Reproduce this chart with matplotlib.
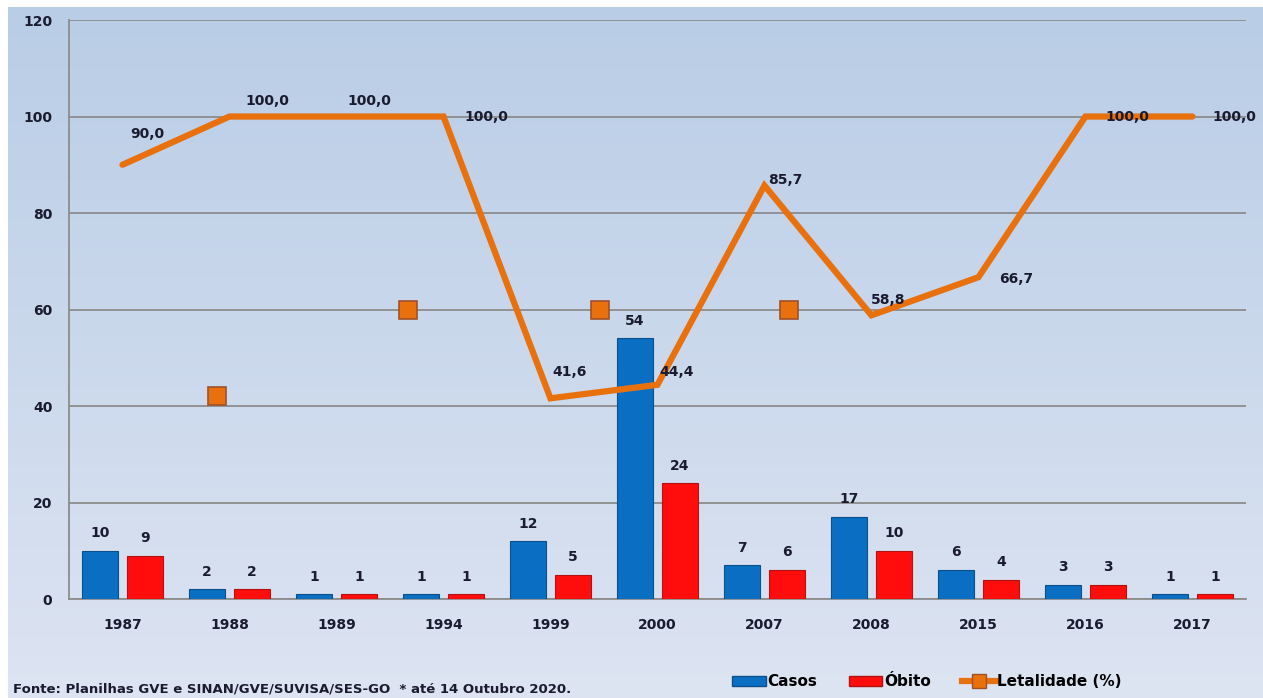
import numpy as np
import matplotlib.pyplot as plt
from matplotlib.lines import Line2D
from matplotlib.patches import Patch

anos = ['1987', '1988', '1989', '1994', '1999', '2000', '2007', '2008', '2015', '2016', '2017']
casos = [10, 2, 1, 1, 12, 54, 7, 17, 6, 3, 1]
obitos = [9, 2, 1, 1, 5, 24, 6, 10, 4, 3, 1]
letalidade = [90.0, 100.0, 100.0, 100.0, 41.6, 44.4, 85.7, 58.8, 66.7, 100.0, 100.0]
# loose markers drawn in the original picture
soltos_x = [0.88, 2.67, 4.46, 6.23]
soltos_y = [42, 60, 60, 60]

azul = '#0a6fc2'
vermelho = '#ff0d0d'
laranja = '#e8710e'
texto = '#1b1b30'

fig = plt.figure(figsize=(12.63, 6.98), dpi=100)
fig.patch.set_facecolor('white')

# background gradient
bg = fig.add_axes([0.006, 0, 0.994, 0.99], zorder=-1)
grad = np.linspace(0, 1, 256).reshape(-1, 1)
top = np.array([0.725, 0.804, 0.902])
bot = np.array([0.867, 0.894, 0.949])
img = top + (bot - top) * grad[:, :, None]
bg.imshow(img, aspect='auto', extent=[0, 1, 0, 1])
bg.axis('off')

ax = fig.add_axes([0.0546, 0.1418, 0.9319, 0.8295])
ax.patch.set_alpha(0)
x = np.arange(len(anos))
w = 0.33
ax.bar(x - 0.21, casos, w, color=azul, edgecolor='#0b4f8a', linewidth=0.8, zorder=3)
ax.bar(x + 0.21, obitos, w, color=vermelho, edgecolor='#b51010', linewidth=0.8, zorder=3)

for i in range(len(anos)):
    ax.text(x[i] - 0.21, casos[i] + 2.2, str(casos[i]), ha='center', va='bottom',
            fontsize=10, fontweight='bold', color=texto, zorder=5)
    ax.text(x[i] + 0.21, obitos[i] + 2.2, str(obitos[i]), ha='center', va='bottom',
            fontsize=10, fontweight='bold', color=texto, zorder=5)

ax.plot(x, letalidade, color=laranja, linewidth=4.5, solid_capstyle='round',
        solid_joinstyle='miter', zorder=4)
ax.plot(soltos_x, soltos_y, 's', color=laranja, markersize=13,
        markeredgecolor='#a0502a', markeredgewidth=1.2, zorder=4)

# label offsets in points
offs = [(18, 22), (27, 11), (24, 11), (31, 0), (14, 19), (14, 9),
        (15, 4), (12, 11), (27, -1), (30, 0), (30, 0)]
for i, v in enumerate(letalidade):
    ax.annotate(f'{v:.1f}'.replace('.', ','), (x[i], v), xytext=offs[i],
                textcoords='offset points', ha='center', va='center',
                fontsize=10, fontweight='bold', color=texto, zorder=6)

ax.set_xlim(-0.5, len(anos) - 0.5)
ax.set_ylim(0, 120)
ax.set_yticks(range(0, 121, 20))
ax.set_xticks(x)
ax.set_xticklabels(anos)
ax.yaxis.grid(True, color='#8c8c8c', linewidth=1.3, zorder=0)
ax.set_axisbelow(True)
for s in ['top', 'right']:
    ax.spines[s].set_visible(False)
for s in ['left', 'bottom']:
    ax.spines[s].set_color('#8c8c8c')
    ax.spines[s].set_linewidth(1.3)
ax.tick_params(axis='both', length=0, labelsize=10, labelcolor=texto)
ax.tick_params(axis='y', pad=12)
ax.tick_params(axis='x', pad=14)
for lbl in ax.get_xticklabels() + ax.get_yticklabels():
    lbl.set_fontweight('bold')

handles = [Patch(facecolor=azul, edgecolor='#0b4f8a'),
           Patch(facecolor=vermelho, edgecolor='#b51010'),
           Line2D([0], [0], color=laranja, linewidth=4.5, marker='s', markersize=10,
                  markeredgecolor='#a0502a')]
fig.legend(handles, ['Casos', 'Óbito', 'Letalidade (%)'], loc='center left',
           bbox_to_anchor=(0.569, 0.023), ncol=3, frameon=False,
           prop={'weight': 'bold', 'size': 11}, handlelength=2.2, handletextpad=0.1,
           columnspacing=2.05)

fig.text(0.01, 0.008, 'Fonte: Planilhas GVE e SINAN/GVE/SUVISA/SES-GO  * até 14 Outubro 2020.',
         fontsize=9.5, fontweight='bold', color=texto)

fig.savefig('out.png', dpi=100)
